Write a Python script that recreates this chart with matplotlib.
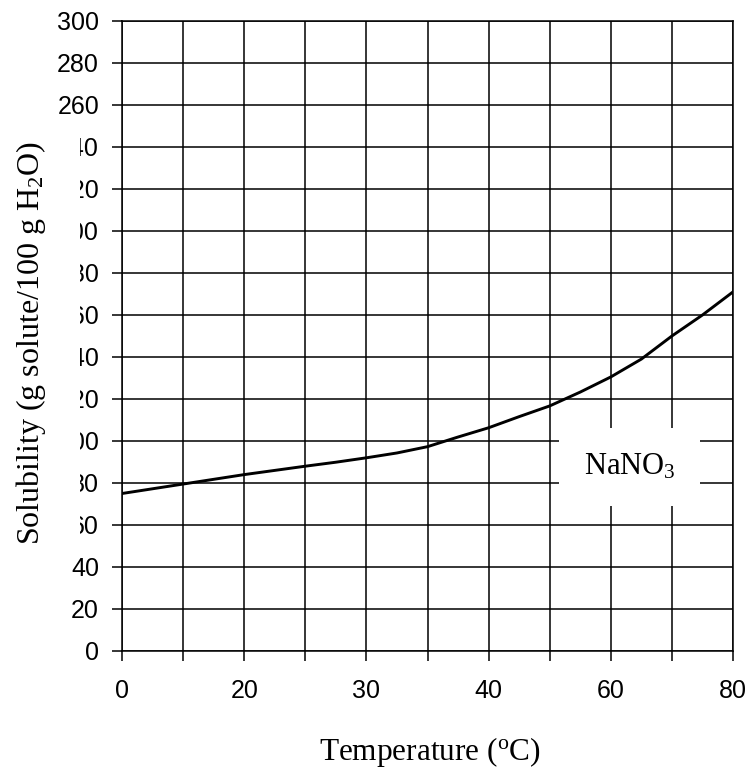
import numpy as np
import matplotlib
matplotlib.use('Agg')
import matplotlib.pyplot as plt
from matplotlib.transforms import Bbox, TransformedBbox

plt.rcParams['mathtext.fontset'] = 'custom'
plt.rcParams['mathtext.rm'] = 'Liberation Serif'
plt.rcParams['mathtext.it'] = 'Liberation Serif:italic'

# solubility curve (temperature in degC, g per 100 g water)
temps = [0, 10, 20, 30, 35, 40, 45, 50, 55, 60, 65, 70, 75, 80, 85, 90, 95, 100]
solubility = [75, 79.5, 84, 88, 89.9, 92, 94.3, 97.3, 101.9, 106.3, 111.6,
              116.7, 123.3, 130.5, 139, 150, 160, 171]

# the printed x labels sit on every other gridline
x_ticks = np.arange(0, 101, 10)
x_label_pos = [0, 20, 40, 60, 80, 100]
x_label_txt = ['0', '20', '30', '40', '60', '80']
y_ticks = np.arange(0, 301, 20)
clipped_labels = [60, 80, 100, 120, 140, 160, 180, 200, 220, 240]

fig = plt.figure(figsize=(7.51, 7.70), dpi=100)
ax = fig.add_axes([122/751, 1-651/770, (733-122)/751, (651-21)/770])

ax.plot(temps, solubility, color='black', lw=2.1, zorder=3)

ax.set_xlim(0, 100)
ax.set_ylim(0, 300)
ax.set_xticks(x_ticks, minor=True)
ax.set_xticks(x_label_pos, x_label_txt)
ax.set_yticks(y_ticks, [str(v) for v in y_ticks])
ax.grid(True, which='both', color='black', lw=1.1, zorder=1)
ax.set_axisbelow(True)
for s in ax.spines.values():
    s.set_color('black')
    s.set_linewidth(1.1)

ax.tick_params(axis='both', which='both', direction='out', length=7,
               width=1.1, color='black')
ax.tick_params(axis='x', which='major', labelsize=18, pad=13)
ax.tick_params(axis='y', labelsize=18, pad=9.5)
for lab in ax.get_xticklabels() + ax.get_yticklabels():
    lab.set_fontfamily('Liberation Sans')

# NaNO3 label in a white patch over the grid
ax.text(83.1, 87.6, 'NaNO$_\\mathrm{3}$', fontsize=22, family='Liberation Serif',
        ha='center', va='center', zorder=4,
        bbox=dict(boxstyle='square,pad=0.8', facecolor='white', edgecolor='none'))

fig.text(31/751, 1-343/770, 'Solubility (g solute/100 g H$_\\mathrm{2}$O)',
         rotation=90, ha='center', va='center', fontsize=23,
         family='Liberation Serif')
fig.text(430/751, 1-760/770, 'Temperature ($^\\mathrm{o}$C)', ha='center',
         va='baseline', fontsize=22.5, family='Liberation Serif')

# the scan cuts off the left part of the middle y labels
fig.canvas.draw()
clip = TransformedBbox(Bbox([[80/751, 0], [1, 1]]), fig.transFigure)
for tick in ax.yaxis.get_major_ticks():
    if round(tick.get_loc()) in clipped_labels:
        tick.label1.set_clip_box(clip)
        tick.label1.set_clip_on(True)

fig.savefig('out.png', dpi=100)
